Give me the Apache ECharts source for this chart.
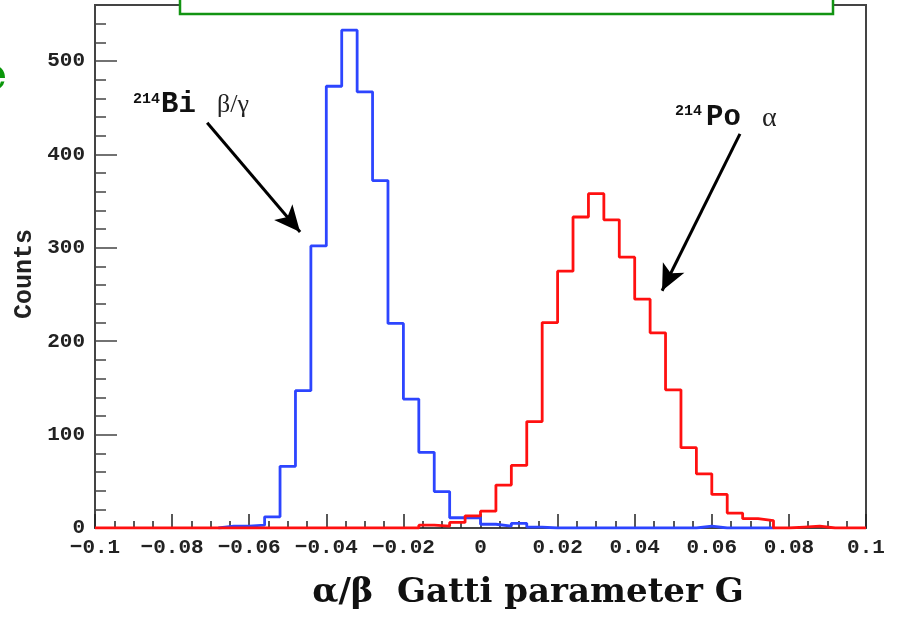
<!DOCTYPE html>
<html><head><meta charset="utf-8">
<script src="https://cdn.jsdelivr.net/npm/echarts@6/dist/echarts.min.js"></script>
<style>html,body{margin:0;padding:0;background:#fff}#c{width:897px;height:617px}</style>
</head><body><div id="c"></div>
<script>
// ---- data ----
const binWidth = 0.004;
const biStart = -0.068;   // 214Bi beta/gamma histogram (first bin low edge)
const biCounts = [2,2,3,12,66,147,302,473,533,467,372,219,138,81,39,11,11,4,2,5,1,0,0,0,0,0,0,0,0,0,0,2,0,0,0,0];
const poStart = -0.1;     // 214Po alpha histogram (first bin low edge)
const poCounts = [0,0,0,0,0,0,0,0,0,0,0,0,0,0,0,0,0,0,0,0,0,3,2,6,13,18,46,67,114,220,275,333,358,330,290,245,209,148,86,58,36,16,10,8,0,1,2,0,0,0];
const xTicks = [-0.1,-0.08,-0.06,-0.04,-0.02,0,0.02,0.04,0.06,0.08,0.1];
const yTicks = [0,100,200,300,400,500];
// annotation arrows [from, to] in data coordinates
const biArrow = [[-0.0709,434],[-0.0468,317]];
const poArrow = [[0.0673,422],[0.0471,254]];

function steps(start, counts){
  const pts = [[start,0]];
  counts.forEach((c,i)=>{
    const lo = +(start + i*binWidth).toFixed(4);
    const hi = +(start + (i+1)*binWidth).toFixed(4);
    pts.push([lo,c],[hi,c]);
  });
  pts.push([+(start + counts.length*binWidth).toFixed(4),0]);
  return pts;
}

const chart = echarts.init(document.getElementById('c'), null, {renderer:'canvas'});
const labelFont = {fontFamily:'Liberation Mono', fontWeight:'bold', fontSize:21, color:'#222'};
chart.setOption({
  animation:false,
  backgroundColor:'#fff',
  grid:{left:95,right:31,top:5,bottom:89,show:true,borderColor:'#444',borderWidth:2,backgroundColor:'transparent'},
  xAxis:{
    type:'value', min:xTicks[0], max:xTicks[xTicks.length-1], interval:0.02,
    axisLine:{onZero:false,lineStyle:{color:'#444',width:2}},
    axisTick:{inside:true,length:14,lineStyle:{color:'#222',width:1.5}},
    minorTick:{show:true,splitNumber:4,length:7,lineStyle:{color:'#222',width:1.5}},
    splitLine:{show:false},
    axisLabel:Object.assign({margin:9,showMinLabel:true,showMaxLabel:true,
      formatter:v=>{ if(Math.abs(v)<1e-9) return '0'; return String(+v.toFixed(3)).replace('-','\u2212'); }},labelFont)
  },
  yAxis:{
    type:'value', min:0, max:560, interval:100,
    axisLine:{onZero:false,lineStyle:{color:'#444',width:2}},
    axisTick:{inside:true,length:22,lineStyle:{color:'#444',width:1.5}},
    minorTick:{show:true,splitNumber:5,length:11,lineStyle:{color:'#444',width:1.5}},
    splitLine:{show:false},
    axisLabel:Object.assign({margin:10,showMaxLabel:false,formatter:v=>yTicks.includes(v)?String(v):''},labelFont)
  },
  series:[
    {type:'line',name:'214Bi',data:steps(biStart,biCounts),showSymbol:false,
     lineStyle:{color:'#2d45ff',width:2.8},itemStyle:{color:'#2d45ff'},
     markLine:{silent:true,symbol:['none','arrow'],symbolSize:[18,26],label:{show:false},
       lineStyle:{color:'#000',width:3,type:'solid'},
       data:[[{coord:biArrow[0]},{coord:biArrow[1]}],[{coord:poArrow[0]},{coord:poArrow[1]}]]}},
    {type:'line',name:'214Po',data:steps(poStart,poCounts),showSymbol:false,
     lineStyle:{color:'#ff1010',width:2.8},itemStyle:{color:'#ff1010'}}
  ],
  graphic:[
    {type:'rect',z:100,shape:{x:180,y:-10,width:653,height:24},style:{fill:'#fff',stroke:'#129412',lineWidth:2.5}},
    {type:'text',z:100,x:7,y:78,style:{text:'e',align:'right',verticalAlign:'middle',font:'bold 44px "DejaVu Serif"',fill:'#0a960a'}},
    {type:'text',z:100,x:25,y:274,rotation:Math.PI/2,style:{text:'Counts',align:'center',verticalAlign:'middle',font:'bold 25px "Liberation Mono"',fill:'#222'}},
    {type:'text',z:100,x:133,y:99,style:{text:'214',align:'left',verticalAlign:'middle',font:'bold 15px "Liberation Mono"',fill:'#111'}},
    {type:'text',z:100,x:161,y:105,style:{text:'Bi',align:'left',verticalAlign:'middle',font:'bold 29px "Liberation Mono"',fill:'#111'}},
    {type:'text',z:100,x:217,y:105,style:{text:'\u03b2/\u03b3',align:'left',verticalAlign:'middle',font:'26px "Liberation Serif"',fill:'#222'}},
    {type:'text',z:100,x:675,y:111,style:{text:'214',align:'left',verticalAlign:'middle',font:'bold 15px "Liberation Mono"',fill:'#111'}},
    {type:'text',z:100,x:706,y:118,style:{text:'Po',align:'left',verticalAlign:'middle',font:'bold 29px "Liberation Mono"',fill:'#111'}},
    {type:'text',z:100,x:762,y:119,style:{text:'\u03b1',align:'left',verticalAlign:'middle',font:'28px "Liberation Serif"',fill:'#222'}},
    {type:'text',z:100,x:528,y:593,style:{text:'\u03b1/\u03b2  Gatti parameter G',align:'center',verticalAlign:'middle',font:'bold 34px "DejaVu Serif"',fill:'#111'}}
  ]
});
</script></body></html>
